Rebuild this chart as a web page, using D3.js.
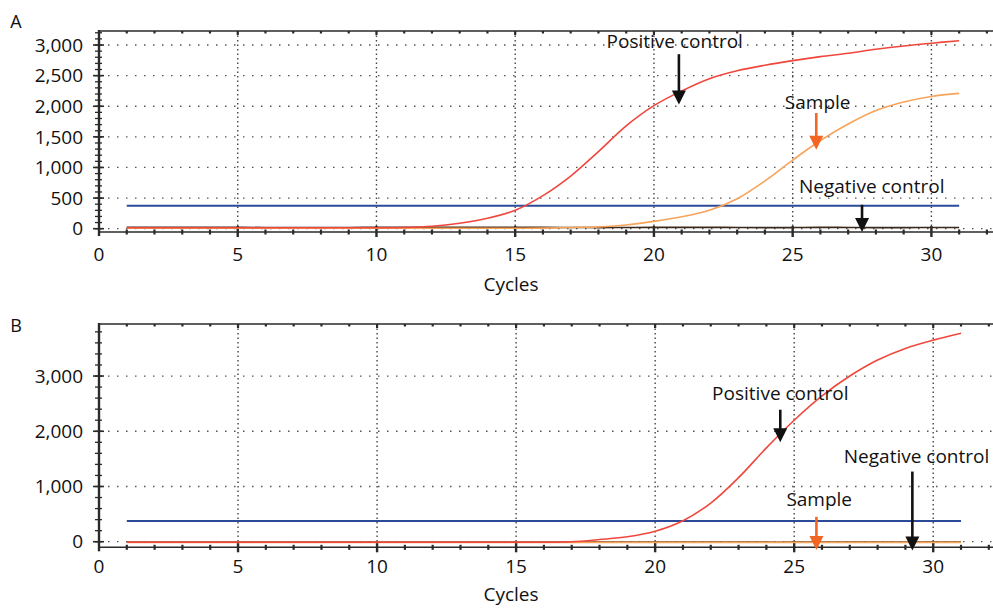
<!DOCTYPE html>
<html>
<head>
<meta charset="utf-8">
<script src="https://cdn.jsdelivr.net/npm/d3@7"></script>
<style>
  body { margin: 0; background: #fff; }
  svg { display: block; font-family: "Open Sans", sans-serif; }
</style>
</head>
<body>
<svg id="chart" width="993" height="608"></svg>
<script>

// DATA

const cycles = d3.range(1, 32);

const positiveA = [15, 15, 15, 15, 15, 15, 15, 15, 15, 15,
  20, 40, 90, 170, 300, 540, 860, 1260, 1680, 2010,
  2250, 2450, 2580, 2670, 2745, 2810, 2865, 2930, 2985, 3030, 3070];

const sampleA = [8, 8, 8, 8, 8, 8, 8, 8, 8, 8,
  8, 8, 8, 8, 8, 10, 20, 30, 60, 120,
  195, 300, 490, 780, 1120, 1440, 1710, 1930, 2070, 2160, 2210];

const negativeA = [22, 22, 22, 22, 22, 20, 18, 18, 20, 22,
  22, 22, 22, 22, 22, 22, 20, 18, 20, 22,
  22, 22, 20, 18, 18, 22, 20, 18, 18, 20, 20];

const positiveB = [-10, -10, -10, -10, -10, -10, -10, -10, -10, -10,
  -10, -10, -10, -10, -10, -10, 0, 40, 90, 190,
  380, 700, 1160, 1700, 2200, 2640, 3000, 3290, 3500, 3650, 3775];

const sampleB = [-12, -12, -12, -12, -12, -12, -12, -12, -12, -12,
  -12, -12, -12, -12, -12, -12, -12, -12, -12, -12,
  -12, -12, -12, -12, -12, -12, -12, -12, -12, -12, -12];

const negativeB = [-5, -5, -5, -5, -5, -5, -5, -5, -5, -5,
  -5, -5, -5, -5, -5, -5, -5, -5, -5, -5,
  -5, -5, -5, -8, -8, -5, -5, -5, -5, -5, -5];

const threshold = 375;

const xTicks = [0, 5, 10, 15, 20, 25, 30];
const yTicksA = [0, 500, 1000, 1500, 2000, 2500, 3000];
const yTicksB = [0, 1000, 2000, 3000];

// arrows: label, label position, arrow x, tail value, tip value
const notesA = [
  { text: "Positive control", tx: 20.75, ty: 2950, x: 20.9, from: 2850, to: 2030, color: "#111" },
  { text: "Sample", tx: 25.9, ty: 1960, x: 25.85, from: 1890, to: 1290, color: "#f26522" },
  { text: "Negative control", tx: 27.85, ty: 590, x: 27.5, from: 390, to: -55, color: "#111" }
];

const notesB = [
  { text: "Positive control", tx: 24.5, ty: 2570, x: 24.5, from: 2390, to: 1800, color: "#111" },
  { text: "Sample", tx: 25.9, ty: 640, x: 25.8, from: 450, to: -150, color: "#f26522" },
  { text: "Negative control", tx: 29.4, ty: 1420, x: 29.25, from: 1270, to: -160, color: "#111" }
];

// COLOURS

const red = "#f0473d";
const orange = "#f7a35a";
const blue = "#2c4a98";
const dark = "#3b2a1c";
const axisColor = "#2a2a2a";
const textColor = "#111";

const svg = d3.select("#chart");

// PANELS

drawPanel({
  letter: "A", letterY: 28,
  xDomain: [0, 32.22], yDomain: [-54, 3229],
  top: 31, bottom: 232,
  yTicks: yTicksA, yMinor: 100,
  positive: positiveA, sample: sampleA, negative: negativeA,
  notes: notesA,
  tickLabelY: 261, titleY: 291
});

drawPanel({
  letter: "B", letterY: 332,
  xDomain: [0, 32.15], yDomain: [-101, 3942],
  top: 324, bottom: 547.3,
  yTicks: yTicksB, yMinor: 200,
  positive: positiveB, sample: sampleB, negative: negativeB,
  notes: notesB,
  tickLabelY: 573, titleY: 601
});


function drawPanel(p) {

  const x = d3.scaleLinear().domain(p.xDomain).range([99, 993]);
  const y = d3.scaleLinear().domain(p.yDomain).range([p.bottom, p.top]);

  const g = svg.append("g");

  // panel letter
  g.append("text")
    .attr("x", 16)
    .attr("y", p.letterY)
    .attr("text-anchor", "middle")
    .attr("font-size", 18)
    .attr("fill", textColor)
    .text(p.letter);

  // GRID

  g.append("g")
    .selectAll("line")
    .data(p.yTicks)
    .enter()
    .append("line")
    .attr("x1", x(0))
    .attr("x2", 993)
    .attr("y1", d => y(d))
    .attr("y2", d => y(d))
    .attr("stroke", "#555")
    .attr("stroke-width", 1.3)
    .attr("stroke-dasharray", "1.5,7.5");

  g.append("g")
    .selectAll("line")
    .data(xTicks.filter(d => d > 0))
    .enter()
    .append("line")
    .attr("x1", d => x(d))
    .attr("x2", d => x(d))
    .attr("y1", p.top)
    .attr("y2", p.bottom)
    .attr("stroke", "#444")
    .attr("stroke-width", 1.4)
    .attr("stroke-dasharray", "1.5,3");

  // FRAME: top border and bottom axis line

  [p.top, p.bottom].forEach(yy => {
    g.append("line")
      .attr("x1", x(0))
      .attr("x2", 993)
      .attr("y1", yy)
      .attr("y2", yy)
      .attr("stroke", axisColor)
      .attr("stroke-width", 1.6);
  });

  const intCycles = d3.range(1, 33);

  // top border ticks
  g.append("g")
    .selectAll("line")
    .data(intCycles)
    .enter()
    .append("line")
    .attr("x1", d => x(d))
    .attr("x2", d => x(d))
    .attr("y1", p.top)
    .attr("y2", d => p.top + (d % 5 === 0 ? 4 : 2.5))
    .attr("stroke", axisColor)
    .attr("stroke-width", 2.2);

  // bottom axis ticks
  g.append("g")
    .selectAll("line")
    .data(intCycles)
    .enter()
    .append("line")
    .attr("x1", d => x(d))
    .attr("x2", d => x(d))
    .attr("y1", d => p.bottom - (d % 5 === 0 ? 6 : 2.5))
    .attr("y2", d => p.bottom + (d % 5 === 0 ? 5 : 2.5))
    .attr("stroke", axisColor)
    .attr("stroke-width", d => d % 5 === 0 ? 2.4 : 2.2);

  // left axis
  g.append("line")
    .attr("x1", x(0))
    .attr("x2", x(0))
    .attr("y1", p.top - 1)
    .attr("y2", p.bottom + 4)
    .attr("stroke", axisColor)
    .attr("stroke-width", 2.4);

  const minor = d3.range(0, p.yDomain[1], p.yMinor);

  g.append("g")
    .selectAll("line")
    .data(minor)
    .enter()
    .append("line")
    .attr("x1", x(0) - 4)
    .attr("x2", x(0) + 3)
    .attr("y1", d => y(d))
    .attr("y2", d => y(d))
    .attr("stroke", axisColor)
    .attr("stroke-width", 1.3);

  g.append("g")
    .selectAll("line")
    .data(p.yTicks)
    .enter()
    .append("line")
    .attr("x1", x(0) - 6)
    .attr("x2", x(0) + 5)
    .attr("y1", d => y(d))
    .attr("y2", d => y(d))
    .attr("stroke", axisColor)
    .attr("stroke-width", 1.6);

  // TICK LABELS

  g.append("g")
    .selectAll("text")
    .data(p.yTicks)
    .enter()
    .append("text")
    .attr("x", 83)
    .attr("y", d => y(d))
    .attr("dy", "0.35em")
    .attr("text-anchor", "end")
    .attr("font-size", 19)
    .attr("fill", textColor)
    .text(d => d3.format(",")(d));

  g.append("g")
    .selectAll("text")
    .data(xTicks)
    .enter()
    .append("text")
    .attr("x", d => x(d))
    .attr("y", p.tickLabelY)
    .attr("text-anchor", "middle")
    .attr("font-size", 19)
    .attr("fill", textColor)
    .text(d => d);

  g.append("text")
    .attr("x", (x(0) + 993) / 2 - 35)
    .attr("y", p.titleY)
    .attr("text-anchor", "middle")
    .attr("font-size", 19)
    .attr("fill", textColor)
    .text("Cycles");

  // THRESHOLD

  g.append("line")
    .attr("x1", x(1))
    .attr("x2", x(31))
    .attr("y1", y(threshold))
    .attr("y2", y(threshold))
    .attr("stroke", blue)
    .attr("stroke-width", 2);

  // CURVES

  const line = values => d3.line()
    .x((d, i) => x(cycles[i]))
    .y(d => y(d))
    .curve(d3.curveCatmullRom)(values);

  [
    { values: p.negative, color: dark },
    { values: p.sample, color: orange },
    { values: p.positive, color: red }
  ].forEach(s => {
    g.append("path")
      .attr("d", line(s.values))
      .attr("fill", "none")
      .attr("stroke", s.color)
      .attr("stroke-width", 1.6);
  });

  // ARROWS + LABELS

  p.notes.forEach(n => {

    const ax = x(n.x);
    const tipY = y(n.to);
    const tailY = y(n.from);
    const head = 14;

    g.append("line")
      .attr("x1", ax)
      .attr("x2", ax)
      .attr("y1", tailY)
      .attr("y2", tipY - head + 2)
      .attr("stroke", n.color)
      .attr("stroke-width", 2.6);

    g.append("path")
      .attr("d", `M${ax - 7},${tipY - head} L${ax + 7},${tipY - head} L${ax},${tipY} Z`)
      .attr("fill", n.color);

    g.append("text")
      .attr("x", x(n.tx))
      .attr("y", y(n.ty))
      .attr("text-anchor", "middle")
      .attr("font-size", 19)
      .attr("fill", textColor)
      .text(n.text);

  });
}

</script>
</body>
</html>
